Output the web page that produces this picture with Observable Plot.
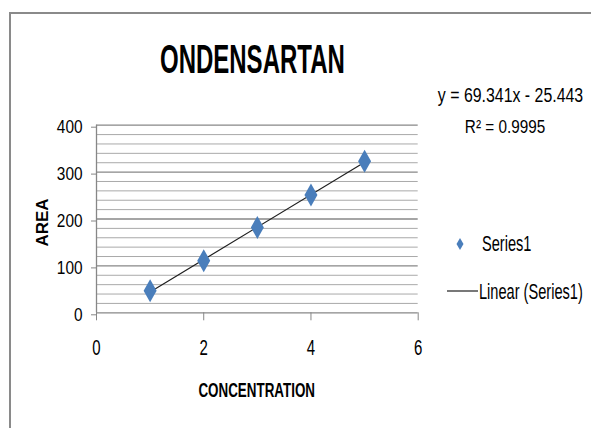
<!DOCTYPE html>
<html><head><meta charset="utf-8">
<script src="https://cdn.jsdelivr.net/npm/d3@7"></script>
<script src="https://cdn.jsdelivr.net/npm/@observablehq/plot@0.6"></script>
<style>
html,body{margin:0;padding:0;background:#fff;}
#chart{position:relative;width:591px;height:428px;overflow:hidden;background:#fff;}
#frame{position:absolute;left:9px;top:12px;width:700px;height:500px;border-top:2px solid #8a8a8a;border-left:2px solid #8a8a8a;pointer-events:none;}
#chart svg{position:absolute;left:0;top:0;}
</style></head><body><div id="chart"><div id="frame"></div></div>
<script>
const concentration = [1, 2, 3, 4, 5];
const area = [47, 111, 182, 251, 323];
const xTicks = [0, 2, 4, 6];
const yTicks = [0, 100, 200, 300, 400];
const yMinor = [20, 40, 60, 80, 120, 140, 160, 180, 220, 240, 260, 280, 320, 340, 360, 380];
const titleText = "ONDENSARTAN";
const xLabel = "CONCENTRATION";
const yLabel = "AREA";
const equationText = "y = 69.341x - 25.443";
const r2Text = "R² = 0.9995";
const legendLabels = ["Series1", "Linear (Series1)"];

const data = concentration.map((c, i) => ({concentration: c, area: area[i]}));
const FONT = "'Liberation Sans', Arial, sans-serif";
const BLUE = "#4a7ebb";

const tallDiamond = {
  draw(ctx) {
    const w = 6.5, h = 11.5;
    ctx.moveTo(0, -h); ctx.lineTo(w, 0); ctx.lineTo(0, h); ctx.lineTo(-w, 0); ctx.closePath();
  }
};

const chart = Plot.plot({
  width: 591,
  height: 428,
  marginLeft: 96,
  marginRight: 173.3,
  marginTop: 124.7,
  marginBottom: 115.7,
  x: {domain: [0, 6]},
  y: {domain: [0, 400]},
  style: {fontFamily: FONT, fontSize: "15px", color: "#000", background: "transparent", overflow: "visible"},
  marks: [
    Plot.ruleY(yMinor, {stroke: "#a9a9a9", strokeWidth: 1}),
    Plot.ruleY(yTicks, {stroke: "#878787", strokeWidth: 1.3}),
    Plot.ruleX([0], {stroke: "#878787", strokeWidth: 1.3}),
    Plot.axisY({ticks: yTicks, tickSize: 5, tickPadding: 9, dy: 2, stroke: "#878787", fill: "#000", label: null, fontSize: 15.4, tickFormat: d => String(d)}),
    Plot.axisX({ticks: xTicks, tickSize: 8, tickPadding: 19, stroke: "#878787", fill: "#000", label: null, fontSize: 15, tickFormat: d => String(d)}),
    Plot.linearRegressionY(data, {x: "concentration", y: "area", stroke: "#1f1f1f", strokeWidth: 1.2, ci: 0}),
    Plot.dot(data, {x: "concentration", y: "area", symbol: tallDiamond, r: 5, fill: BLUE, stroke: "none"})
  ]
});
document.getElementById("chart").appendChild(chart);

const svg = d3.select(chart);

// stretch tick labels vertically (narrow, tall glyphs of the reference)
function stretchLabels(selector, sy) {
  svg.selectAll(selector).each(function() {
    const el = d3.select(this);
    const tr = el.attr("transform") || "";
    el.attr("transform", (tr + ` scale(1,${sy})`).trim());
  });
}
stretchLabels('g[aria-label="y-axis tick label"] text', 1.21);
stretchLabels('g[aria-label="x-axis tick label"] text', 1.45);

function addText(str, x, y, opts = {}) {
  const sy = opts.sy || 1;
  const t = svg.append("text")
    .attr("transform", opts.transform || `translate(${x},${y}) scale(1,${sy})`)
    .attr("text-anchor", opts.anchor || "middle")
    .attr("font-family", FONT)
    .attr("font-size", opts.size || 15)
    .attr("font-weight", opts.weight || "normal")
    .attr("fill", "#000")
    .text(str);
  return t;
}
// title
addText(titleText, 252.4, 73.3, {size: 24, weight: "bold", sy: 1.7});
// equation & R²
addText(equationText, 510.5, 101.7, {size: 15.9, sy: 1.32});
addText(r2Text, 505, 133.3, {size: 15.3, sy: 1.22});
// axis titles
addText(xLabel, 256.7, 396.7, {size: 13.4, weight: "bold", sy: 1.56});
addText(yLabel, 0, 0, {size: 17, weight: "bold", transform: "translate(48.3,222.5) rotate(-90)"});
// legend
svg.append("path").attr("d", "M460,238 L463.5,244 L460,250 L456.5,244 Z").attr("fill", BLUE);
addText(legendLabels[0], 482, 250.7, {anchor: "start", size: 14.6, sy: 1.47});
svg.append("line").attr("x1", 447).attr("x2", 478).attr("y1", 291).attr("y2", 291).attr("stroke", "#1f1f1f").attr("stroke-width", 1.2);
addText(legendLabels[1], 479, 299, {anchor: "start", size: 14.6, sy: 1.47});
</script></body></html>
